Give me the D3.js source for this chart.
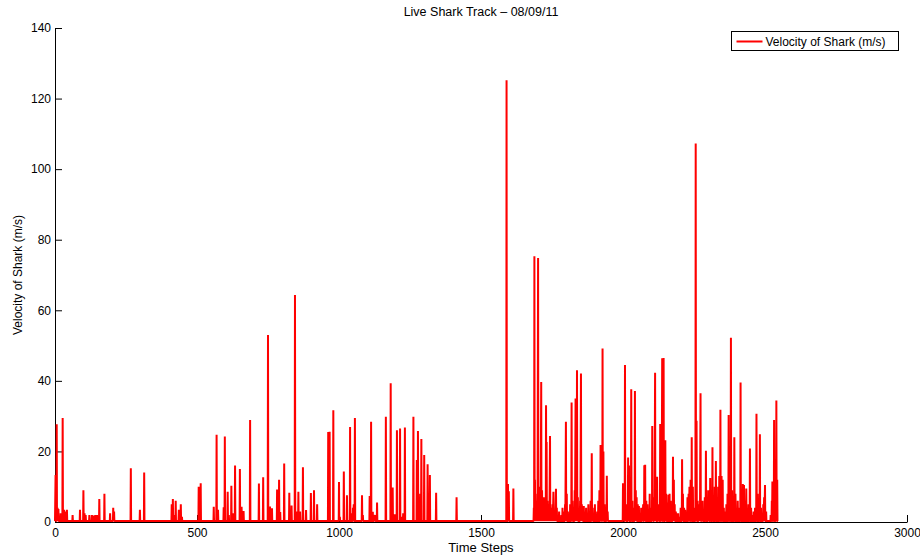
<!DOCTYPE html>
<html>
<head>
<meta charset="utf-8">
<script src="https://cdn.jsdelivr.net/npm/d3@7"></script>
<style>
  body { margin: 0; background: #fff; }
  svg text { font-family: "Liberation Sans", Arial, Helvetica, sans-serif; fill: #000; }
</style>
</head>
<body>
<div id="chart"></div>
<script>
const sharkSteps = [
  2, 6, 9, 12, 20, 27, 32, 37, 42, 62, 88, 100, 104, 108, 121, 130, 136, 142, 148, 156,
  174, 194, 205, 208, 267, 299, 314, 411, 415, 419, 425, 436, 443, 447,
  506, 513, 559, 569, 574, 594, 598, 608, 612, 621, 626, 634, 651, 657, 664, 687,
  718, 733, 750, 757, 764, 782, 789, 793, 807, 825, 833, 845, 850, 857, 863, 873,
  884, 901, 912, 923, 962, 967, 980, 1000, 1003, 1017, 1028, 1039, 1045, 1049, 1052, 1056,
  1081, 1084, 1108, 1113, 1119, 1124, 1127, 1134, 1165, 1182, 1189, 1196, 1204, 1215,
  1222, 1226, 1232, 1262, 1274, 1278, 1286, 1290, 1300, 1312, 1320, 1342, 1414,
  1590, 1595, 1598, 1614,
  1686, 1688, 1690, 1693, 1696, 1698, 1701, 1704, 1707, 1709, 1712, 1715, 1718, 1721, 1724,
  1727, 1729, 1731, 1734, 1737, 1740, 1743, 1746, 1749, 1752, 1755, 1758, 1761, 1764, 1767,
  1771, 1775, 1779, 1783, 1787, 1791, 1796, 1799, 1802, 1806, 1810, 1814, 1819, 1822, 1826,
  1830, 1833, 1836, 1838, 1841, 1845, 1849, 1852, 1855, 1858, 1862, 1866, 1870, 1874, 1878,
  1882, 1886, 1890, 1893, 1897, 1901, 1905, 1909, 1913, 1917, 1921, 1924, 1928, 1931, 1935,
  1939, 1943, 1946, 2000, 2003, 2007, 2010, 2014, 2018, 2021, 2025, 2029, 2033, 2037, 2042,
  2045, 2048, 2052, 2056, 2060, 2064, 2068, 2071, 2075, 2078, 2082, 2086, 2090, 2094, 2098,
  2103, 2106, 2110, 2113, 2116, 2120, 2124, 2127, 2131, 2135, 2138, 2143, 2149, 2152, 2156,
  2160, 2164, 2168, 2172, 2176, 2179, 2182, 2186, 2190, 2194, 2198, 2203, 2208, 2211, 2215,
  2219, 2223, 2227, 2231, 2234, 2238, 2242, 2246, 2250, 2256, 2259, 2263, 2267, 2270, 2273,
  2277, 2280, 2284, 2288, 2292, 2296, 2300, 2303, 2307, 2311, 2315, 2319, 2323, 2327, 2331,
  2335, 2339, 2343, 2347, 2351, 2355, 2359, 2364, 2368, 2372, 2376, 2380, 2384, 2388, 2392,
  2396, 2400, 2404, 2409, 2414, 2418, 2422, 2426, 2430, 2434, 2438, 2442, 2447, 2451, 2455,
  2460, 2465, 2470, 2474, 2478, 2482, 2486, 2490, 2494, 2497, 2500, 2504, 2520, 2524, 2526,
  2530, 2532, 2536, 2540, 2543
];

const sharkVelocity = [
  13.3, 27.7, 4, 3.7, 2.5, 29.5, 3.5, 3, 3.5, 2, 3.5, 9, 2.5, 2, 2, 2, 1.8, 2, 2, 6.5,
  8, 2.5, 4, 3, 15.2, 3.5, 14, 5, 6.5, 2, 6, 3.5, 5, 1.5,
  10, 11, 4.3, 24.7, 3.5, 4.2, 24.2, 8.6, 2, 10.3, 2.5, 16, 15, 4.3, 3.1, 28.9,
  10.9, 12.7, 53, 4.4, 3.9, 9.2, 12, 2.8, 16.6, 8.3, 4.7, 64.3, 3, 8.6, 3, 15.5,
  3.4, 8.2, 9, 5, 25.5, 25.6, 31.7, 11.3, 1.5, 14.3, 7.6, 26.9, 2.5, 4, 5, 29.5,
  7.6, 2, 7.4, 28.4, 2.9, 2, 2, 5.5, 29.8, 39.3, 9.8, 2.2, 26, 26.5,
  1.5, 2.5, 26.8, 29.8, 17.6, 25.8, 8, 23.5, 19, 16.4, 13.3, 8.3, 7,
  125.2, 10.8, 8.7, 9.5,
  4, 75.3, 12, 6, 3, 8, 74.8, 10, 5, 3, 39.7, 9, 4, 7, 3,
  6, 33.1, 22.7, 6, 3, 5, 24.4, 4, 2, 5, 8.6, 3, 2, 9.4, 4,
  2, 3, 1.5, 2, 4, 3, 5, 28.4, 8, 3, 2, 5, 33.9, 6, 3,
  9, 35, 20, 43, 7, 4, 6, 42.1, 5, 3, 4.5, 3, 4, 2, 5,
  3, 6, 19.5, 4, 2, 5, 2, 3, 6, 9, 21.8, 3, 49.2, 20, 5,
  2, 13.1, 3, 11, 3, 44.5, 4, 5, 18.3, 16, 7, 37.6, 6, 4, 37.1,
  9, 7, 5, 4.5, 2, 4, 2, 5, 16.1, 16.2, 6, 5, 3, 8, 4,
  27.2, 7, 4, 42.3, 6, 12.8, 5, 3, 27.8, 9, 46.4, 46.5, 23.2, 8, 5.5,
  7.7, 8, 6, 4, 18.5, 12, 5, 3, 2.5, 2.5, 1.5, 4, 17.8, 8, 4,
  3.5, 3, 7, 8, 10, 12, 24, 10, 4, 107.3, 28.7, 6, 3, 5, 36.5,
  4, 6, 3, 7, 20.2, 5, 9, 6, 12.5, 6, 21.2, 5, 10, 17.3, 6,
  10, 13, 31.8, 13, 12, 4, 3, 5, 8, 30.3, 12, 52.2, 9, 5, 24,
  8, 3.5, 6, 4, 39.5, 5, 10.8, 10.5, 6, 9.5, 3, 5, 20.8, 4, 2,
  3, 4, 30.7, 8, 5, 24.9, 4, 2, 5, 7, 10.5, 3, 2, 6, 11.5,
  6, 28.9, 16, 34.4, 12
];

const baselineVelocity = 0.25;
const lastStep = 2546;

const xTicks = [0, 500, 1000, 1500, 2000, 2500, 3000];
const yTicks = [0, 20, 40, 60, 80, 100, 120, 140];

const chartTitle = "Live Shark Track \u2013 08/09/11";
const xTitle = "Time Steps";
const yTitle = "Velocity of Shark (m/s)";
const seriesName = "Velocity of Shark (m/s)";

const w = 920;
const h = 560;
const plotLeft = 55, plotRight = 907, plotTop = 28, plotBottom = 522;

const svg = d3.select("#chart").append("svg")
  .attr("width", w)
  .attr("height", h);

const x = d3.scaleLinear().domain([0, 3000]).range([plotLeft, plotRight]);
const y = d3.scaleLinear().domain([0, 140]).range([plotBottom, plotTop]);

// ---------- build polyline: the velocity drops back to rest between events ----------
const points = [{ step: 0, v: baselineVelocity }];
sharkSteps.forEach((s, i) => {
  const prev = points[points.length - 1].step;
  if (s - prev > 2) points.push({ step: s - 1, v: baselineVelocity });
  points.push({ step: s, v: sharkVelocity[i] });
  const next = i < sharkSteps.length - 1 ? sharkSteps[i + 1] : lastStep + 1;
  if (next - s > 1) points.push({ step: s + 1, v: baselineVelocity });
});
points.push({ step: lastStep, v: baselineVelocity });

// ---------- axes ----------
const xAxis = d3.axisBottom(x)
  .tickValues(xTicks)
  .tickSizeInner(-7)
  .tickSizeOuter(0)
  .tickPadding(6)
  .tickFormat(d3.format("d"));

const yAxis = d3.axisLeft(y)
  .tickValues(yTicks)
  .tickSizeInner(-7)
  .tickSizeOuter(0)
  .tickPadding(4)
  .tickFormat(d3.format("d"));

const gx = svg.append("g")
  .attr("transform", `translate(0,${plotBottom})`)
  .call(xAxis);

const gy = svg.append("g")
  .attr("transform", `translate(${plotLeft},0)`)
  .call(yAxis);

[gx, gy].forEach(g => {
  g.selectAll("text").attr("font-size", 12).attr("fill", "#000")
    .style("font-family", "'Liberation Sans', Arial, sans-serif");
  g.selectAll("line").attr("stroke", "#000");
  g.select(".domain").attr("stroke", "#000");
});

// ---------- series ----------
const line = d3.line()
  .x(d => x(d.step))
  .y(d => y(d.v));

svg.append("path")
  .datum(points)
  .attr("fill", "none")
  .attr("stroke", "#ff0000")
  .attr("stroke-width", 2)
  .attr("stroke-linejoin", "bevel")
  .attr("d", line);

// ---------- titles ----------
svg.append("text")
  .attr("x", (plotLeft + plotRight) / 2)
  .attr("y", 16)
  .attr("text-anchor", "middle")
  .attr("font-size", 12.5)
  .text(chartTitle);

svg.append("text")
  .attr("x", (plotLeft + plotRight) / 2)
  .attr("y", 552)
  .attr("text-anchor", "middle")
  .attr("font-size", 13)
  .text(xTitle);

svg.append("text")
  .attr("transform", `translate(22,${(plotTop + plotBottom) / 2}) rotate(-90)`)
  .attr("text-anchor", "middle")
  .attr("font-size", 12)
  .text(yTitle);

// ---------- legend ----------
const legend = svg.append("g").attr("transform", "translate(731.5,31.5)");

legend.append("rect")
  .attr("width", 167)
  .attr("height", 19)
  .attr("fill", "#fff")
  .attr("stroke", "#000");

legend.append("line")
  .attr("x1", 5).attr("x2", 31)
  .attr("y1", 10).attr("y2", 10)
  .attr("stroke", "#ff0000")
  .attr("stroke-width", 2);

legend.append("text")
  .attr("x", 34)
  .attr("y", 14)
  .attr("font-size", 12)
  .text(seriesName);
</script>
</body>
</html>
